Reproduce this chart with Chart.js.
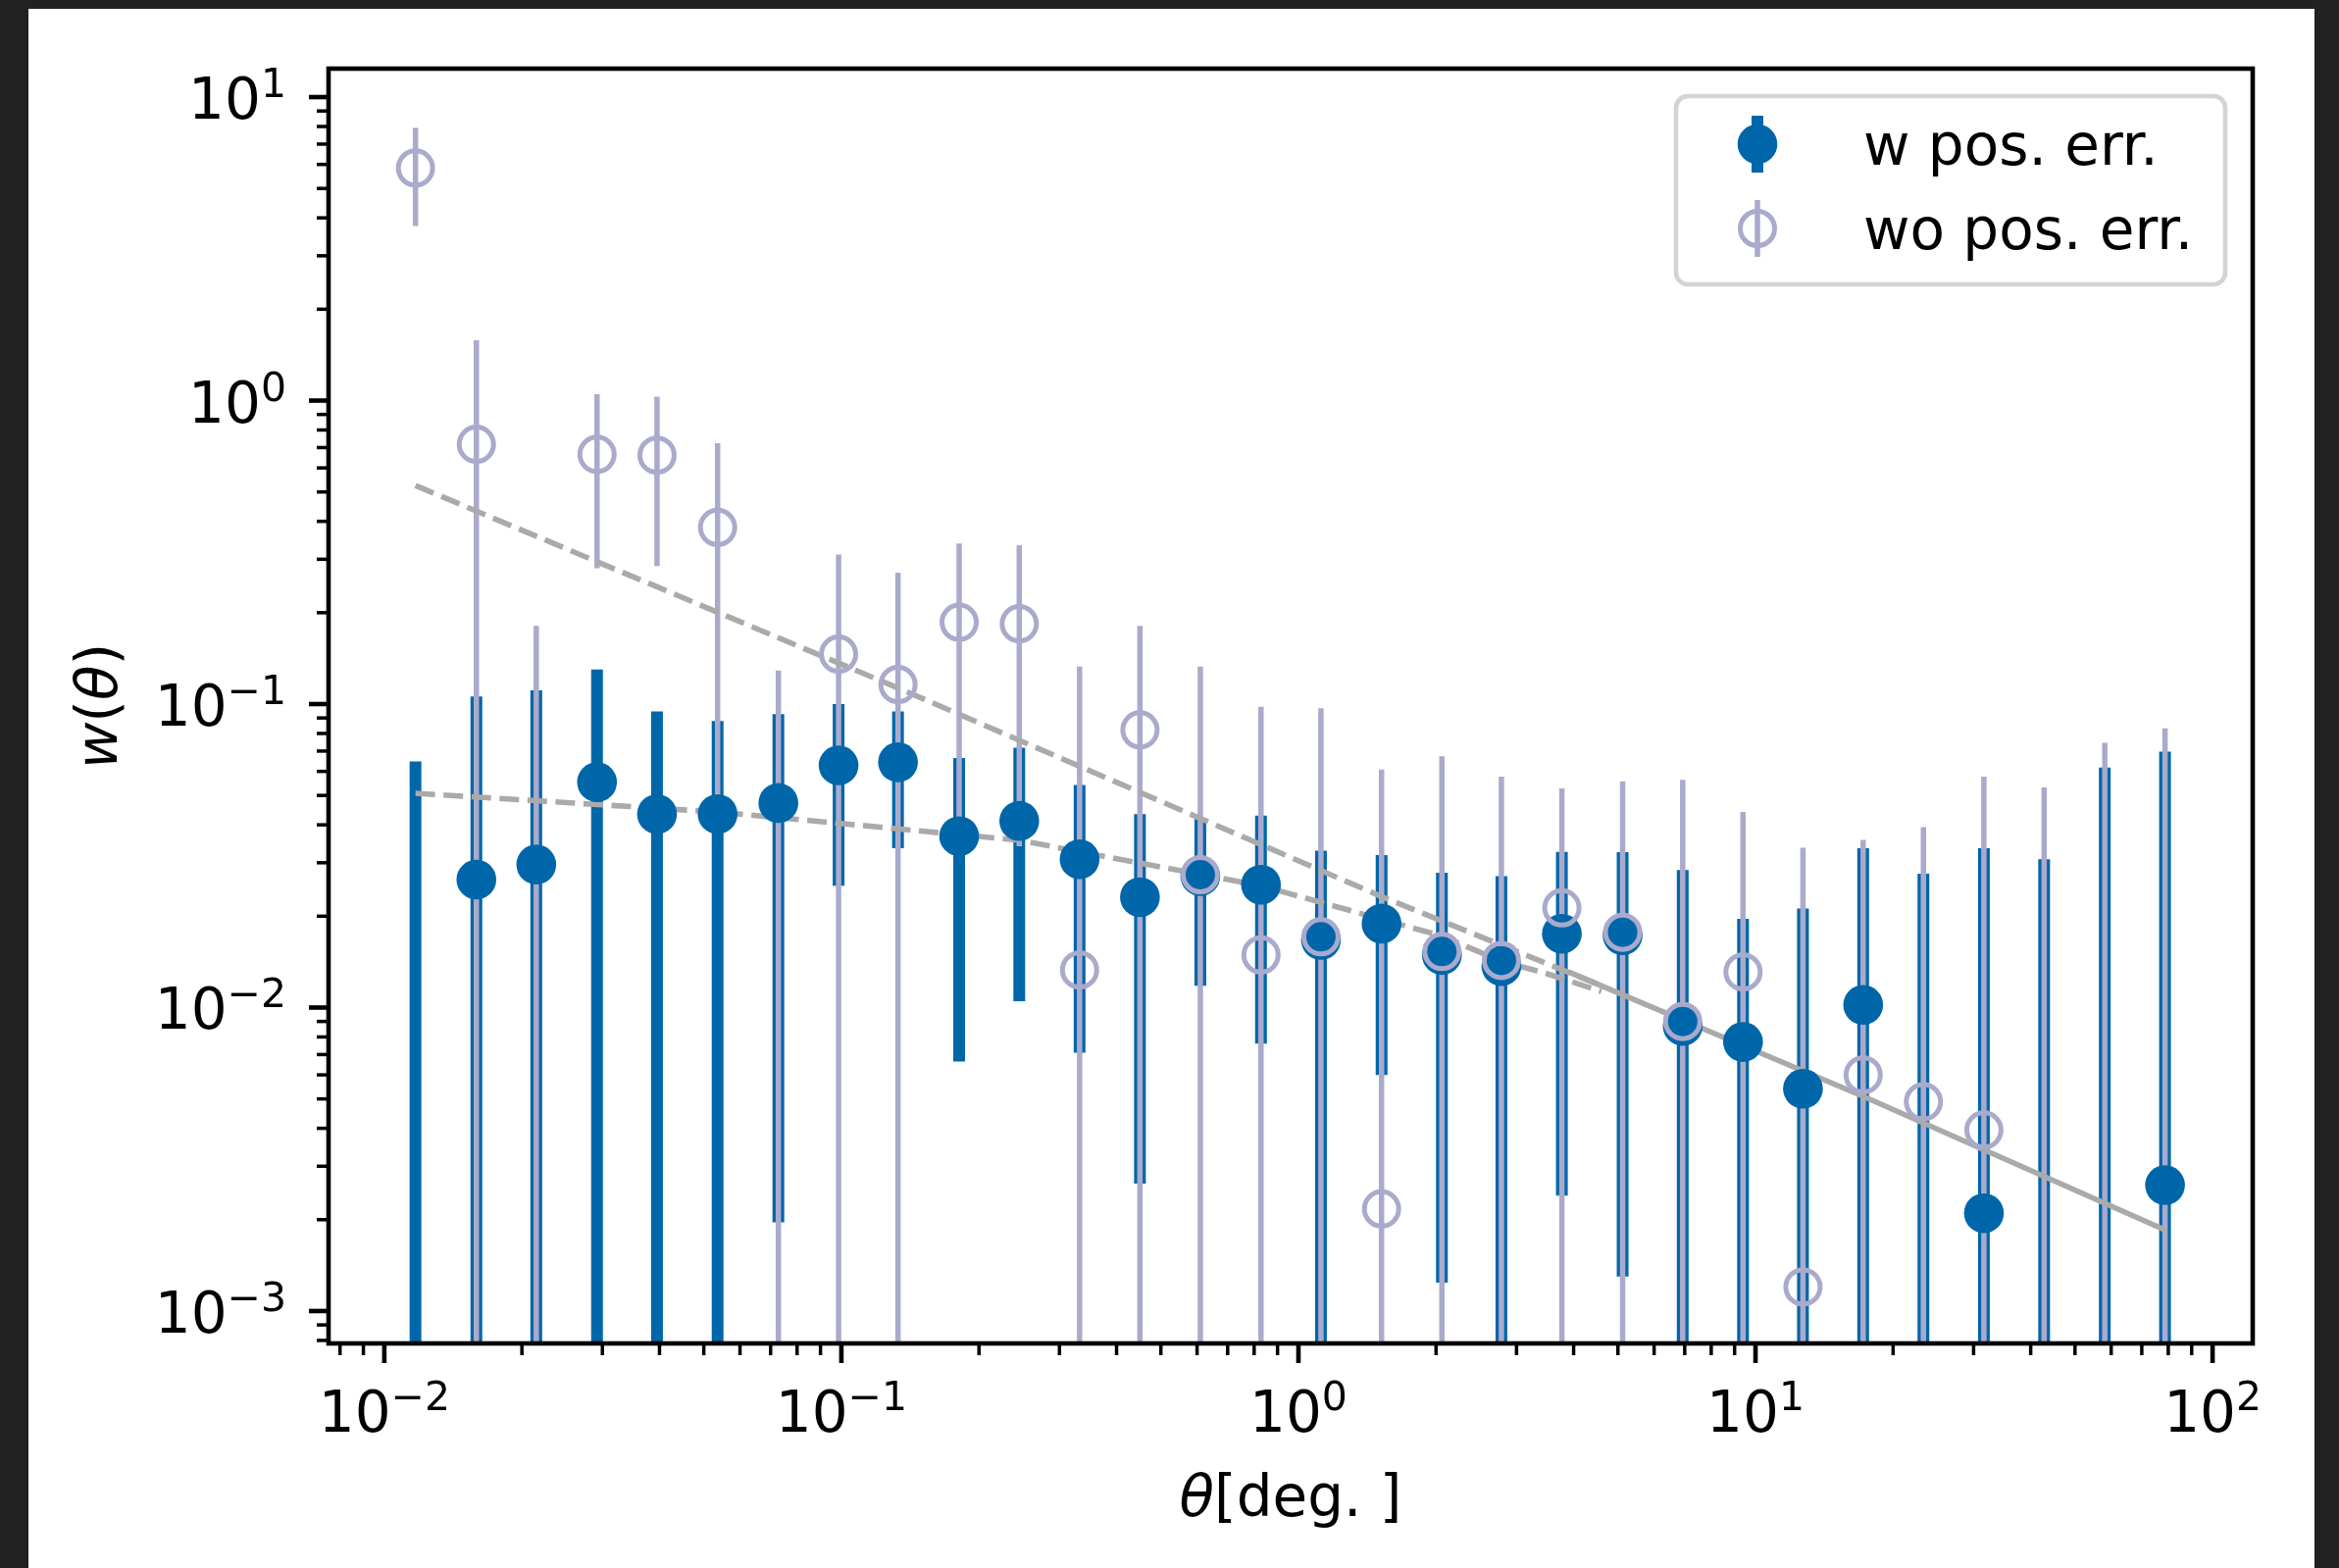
<!DOCTYPE html>
<html>
<head>
<meta charset="utf-8">
<title>w(theta)</title>
<script src="https://cdn.jsdelivr.net/npm/chart.js@4.4.0/dist/chart.umd.min.js"></script>
<style>
  html, body { margin: 0; padding: 0; background: #212121; }
  #figure { position: absolute; left: 29px; top: 9px; width: 2331px; height: 1590px; background: #ffffff; }
  canvas { display: block; }
</style>
</head>
<body>
<div id="figure"><canvas id="wtheta" width="2331" height="1590"></canvas></div>
<script>
// angular bins (deg)
const theta = [0.0117, 0.0159, 0.0215, 0.0292, 0.0395, 0.0536, 0.0728, 0.0986, 0.133, 0.181,
  0.245, 0.332, 0.450, 0.610, 0.828, 1.12, 1.52, 2.06, 2.78, 3.77,
  5.12, 6.93, 9.39, 12.7, 17.2, 23.3, 31.6, 42.8, 58.1, 78.7];

// w pos. err. : marker, top and bottom of the error bar (null = off the axis)
const wVal = [null, 0.0264, 0.0296, 0.0553, 0.0434, 0.0434, 0.0472, 0.0628, 0.0643, 0.0367,
  0.0412, 0.0308, 0.0231, 0.0271, 0.0254, 0.0167, 0.0189, 0.0149, 0.0137, 0.0175,
  0.0173, 0.0087, 0.0077, 0.0054, 0.0102, null, 0.0021, null, null, 0.0026];
const wHi = [0.0647, 0.106, 0.111, 0.130, 0.0946, 0.0879, 0.0927, 0.100, 0.0946, 0.0664,
  0.0718, 0.0541, 0.0434, 0.0418, 0.0429, 0.0329, 0.0318, 0.0278, 0.0271, 0.0326,
  0.0325, 0.0284, 0.0196, 0.0212, 0.0335, 0.0276, 0.0335, 0.0308, 0.0618, 0.0697];
const wLo = [null, null, null, null, null, null, 0.00196, 0.0252, 0.0335, 0.00664,
  0.0105, 0.0071, 0.00263, 0.0118, 0.0076, null, 0.0060, 0.00124, null, 0.0024,
  0.0013, null, null, null, null, null, null, null, null, null];

// wo pos. err.
const oVal = [5.84, 0.718, null, 0.665, 0.661, 0.382, null, 0.146, 0.116, 0.186,
  0.184, 0.0133, 0.0822, 0.0274, 0.0149, 0.0171, 0.00217, 0.0153, 0.0143, 0.0213,
  0.0177, 0.0090, 0.0131, 0.00120, 0.0060, 0.00489, 0.00395, null, null, null];
const oHi = [7.92, 1.58, 0.181, 1.05, 1.03, 0.724, 0.129, 0.311, 0.271, 0.338,
  0.334, 0.133, 0.181, 0.133, 0.098, 0.0969, 0.0608, 0.0673, 0.0577, 0.0527,
  0.0557, 0.0563, 0.0441, 0.0336, 0.0357, 0.0393, 0.0577, 0.0531, 0.0745, 0.0832];
const oLo = [3.76, null, null, 0.28, 0.285, 0.040, null, null, null, 0.035,
  0.034, null, null, null, null, null, null, null, null, null,
  null, null, null, null, null, null, null, null, null, null];

// model curves
const upperFitX = [0.0117, 0.133, 1.52, 4.6];
const upperFitY = [0.525, 0.113, 0.0232, 0.0118];
const lowerFitX = [0.0117, 0.0536, 0.245, 0.332, 0.828, 2.06, 2.78, 3.46, 4.6];
const lowerFitY = [0.0508, 0.0441, 0.0356, 0.0326, 0.0252, 0.0172, 0.0142, 0.0130, 0.0113];
const solidFitX = [3.9, 17.2, 78.7];
const solidFitY = [0.0131, 0.00510, 0.00185];

// axes
const xTicks = [0.01, 0.1, 1, 10, 100];
const xTickExp = ['\u22122', '\u22121', '0', '1', '2'];
const yTicks = [0.001, 0.01, 0.1, 1, 10];
const yTickExp = ['\u22123', '\u22122', '\u22121', '0', '1'];
const xRange = [0.00755, 122.4];
const yRange = [7.82e-4, 12.41];

const DARK = '#0066aa';
const LIGHT = '#aaaacc';
const GREY = '#aaaaaa';
const FONT = '"DejaVu Sans", sans-serif';

function pts(xs, ys) {
  const out = [];
  xs.forEach((x, i) => {
    if (ys[i] !== null) out.push({ x: x, y: ys[i] });
  });
  return out;
}

function drawBars(ctx, chart, hi, lo, color, width) {
  const x = chart.scales.x;
  const y = chart.scales.y;
  ctx.strokeStyle = color;
  ctx.lineWidth = width;
  theta.forEach((t, i) => {
    const px = x.getPixelForValue(t);
    const top = y.getPixelForValue(hi[i]);
    const bottom = lo[i] === null ? chart.chartArea.bottom + 10 : y.getPixelForValue(lo[i]);
    ctx.beginPath();
    ctx.moveTo(px, top);
    ctx.lineTo(px, bottom);
    ctx.stroke();
  });
}

const errorBars = {
  id: 'errorBars',
  beforeDatasetsDraw(chart) {
    const ctx = chart.ctx;
    const a = chart.chartArea;
    ctx.save();
    ctx.beginPath();
    ctx.rect(a.left, a.top, a.right - a.left, a.bottom - a.top);
    ctx.clip();
    ctx.lineCap = 'butt';
    drawBars(ctx, chart, wHi, wLo, DARK, 12);
    drawBars(ctx, chart, oHi, oLo, LIGHT, 5.5);
    ctx.restore();
  }
};

// "10" with a raised exponent
function powerLabel(ctx, exp, x, y, mode) {
  ctx.font = '58px ' + FONT;
  const wb = ctx.measureText('10').width;
  ctx.font = '41px ' + FONT;
  const we = ctx.measureText(exp).width;
  const start = mode === 'center' ? x - (wb + we) / 2 : x - wb - we;
  ctx.textAlign = 'left';
  ctx.textBaseline = 'alphabetic';
  ctx.font = '58px ' + FONT;
  ctx.fillText('10', start, y);
  ctx.font = '41px ' + FONT;
  ctx.fillText(exp, start + wb, y - 22);
}

function richText(ctx, parts, x, y) {
  const widths = parts.map(p => {
    ctx.font = (p[1] ? 'italic ' : '') + '58px ' + FONT;
    return ctx.measureText(p[0]).width;
  });
  let cx = x - widths.reduce((s, w) => s + w, 0) / 2;
  parts.forEach((p, i) => {
    ctx.font = (p[1] ? 'italic ' : '') + '58px ' + FONT;
    ctx.fillText(p[0], cx, y);
    cx += widths[i];
  });
}

function minorTicks(range) {
  const out = [];
  for (let k = -4; k <= 2; k++) {
    for (let m = 2; m <= 9; m++) {
      const v = m * Math.pow(10, k);
      if (v >= range[0] && v <= range[1]) out.push(v);
    }
  }
  return out;
}

const axesFrame = {
  id: 'axesFrame',
  afterDatasetsDraw(chart) {
    const ctx = chart.ctx;
    const a = chart.chartArea;
    const x = chart.scales.x;
    const y = chart.scales.y;
    ctx.save();
    ctx.strokeStyle = '#000';
    ctx.fillStyle = '#000';
    ctx.lineCap = 'butt';

    // minor ticks
    ctx.lineWidth = 3.5;
    minorTicks(xRange).forEach(v => {
      const px = x.getPixelForValue(v);
      ctx.beginPath(); ctx.moveTo(px, a.bottom); ctx.lineTo(px, a.bottom + 12); ctx.stroke();
    });
    minorTicks(yRange).forEach(v => {
      const py = y.getPixelForValue(v);
      ctx.beginPath(); ctx.moveTo(a.left, py); ctx.lineTo(a.left - 12, py); ctx.stroke();
    });

    // major ticks + labels
    ctx.lineWidth = 4.6;
    xTicks.forEach((v, i) => {
      const px = x.getPixelForValue(v);
      ctx.beginPath(); ctx.moveTo(px, a.bottom); ctx.lineTo(px, a.bottom + 20); ctx.stroke();
      powerLabel(ctx, xTickExp[i], px, a.bottom + 90, 'center');
    });
    yTicks.forEach((v, i) => {
      const py = y.getPixelForValue(v);
      ctx.beginPath(); ctx.moveTo(a.left, py); ctx.lineTo(a.left - 20, py); ctx.stroke();
      powerLabel(ctx, yTickExp[i], a.left - 43, py + 22, 'right');
    });

    // spines
    ctx.lineWidth = 4.6;
    ctx.strokeRect(a.left, a.top, a.right - a.left, a.bottom - a.top);

    // axis titles
    ctx.textAlign = 'left';
    ctx.textBaseline = 'alphabetic';
    richText(ctx, [['\u03b8', true], ['[deg. ]', false]], (a.left + a.right) / 2, 1537);
    ctx.translate(90, (a.top + a.bottom) / 2);
    ctx.rotate(-Math.PI / 2);
    richText(ctx, [['w', true], ['(', false], ['\u03b8', true], [')', false]], 0, 0);
    ctx.restore();
  }
};

const legendBox = {
  id: 'legendBox',
  afterDraw(chart) {
    const ctx = chart.ctx;
    ctx.save();
    ctx.beginPath();
    ctx.roundRect(1680, 89, 560, 192, 12);
    ctx.fillStyle = 'rgba(255,255,255,0.8)';
    ctx.fill();
    ctx.lineWidth = 4.6;
    ctx.strokeStyle = '#d4d4d4';
    ctx.stroke();

    const mx = 1763;
    // filled handle
    ctx.strokeStyle = DARK;
    ctx.lineWidth = 12;
    ctx.beginPath(); ctx.moveTo(mx, 138 - 29); ctx.lineTo(mx, 138 + 29); ctx.stroke();
    ctx.fillStyle = DARK;
    ctx.beginPath(); ctx.arc(mx, 138, 20.3, 0, Math.PI * 2); ctx.fill();
    // open handle
    ctx.strokeStyle = LIGHT;
    ctx.lineWidth = 5.5;
    ctx.beginPath(); ctx.moveTo(mx, 224 - 29); ctx.lineTo(mx, 224 + 29); ctx.stroke();
    ctx.lineWidth = 5;
    ctx.beginPath(); ctx.arc(mx, 224, 17.5, 0, Math.PI * 2); ctx.stroke();

    ctx.fillStyle = '#000';
    ctx.font = '58px ' + FONT;
    ctx.textAlign = 'left';
    ctx.textBaseline = 'alphabetic';
    ctx.fillText('w pos. err.', 1871, 159);
    ctx.fillText('wo pos. err.', 1871, 245);
    ctx.restore();
  }
};

const modelLine = {
  type: 'line',
  fill: false,
  tension: 0,
  borderColor: GREY,
  borderWidth: 5.6,
  borderCapStyle: 'butt',
  pointRadius: 0,
  pointHoverRadius: 0
};

new Chart(document.getElementById('wtheta'), {
  type: 'scatter',
  data: {
    datasets: [
      {
        label: 'wo pos. err.',
        data: pts(theta, oVal),
        order: 0,
        pointRadius: 17.5,
        pointBorderWidth: 5,
        pointBorderColor: LIGHT,
        pointBackgroundColor: 'rgba(0,0,0,0)'
      },
      {
        label: 'w pos. err.',
        data: pts(theta, wVal),
        order: 1,
        pointRadius: 20.3,
        pointBorderWidth: 0,
        pointBackgroundColor: DARK
      },
      Object.assign({}, modelLine, {
        label: 'upper model',
        data: pts(upperFitX, upperFitY),
        order: 2,
        borderDash: [20, 8.6]
      }),
      Object.assign({}, modelLine, {
        label: 'lower model',
        data: pts(lowerFitX, lowerFitY),
        order: 3,
        borderDash: [20, 8.6]
      }),
      Object.assign({}, modelLine, {
        label: 'fit',
        data: pts(solidFitX, solidFitY),
        order: 4
      })
    ]
  },
  options: {
    responsive: false,
    animation: false,
    devicePixelRatio: 1,
    events: [],
    layout: { padding: { left: 306, top: 61, right: 63, bottom: 229 } },
    scales: {
      x: { type: 'logarithmic', min: xRange[0], max: xRange[1], display: false },
      y: { type: 'logarithmic', min: yRange[0], max: yRange[1], display: false }
    },
    plugins: {
      legend: { display: false },
      tooltip: { enabled: false }
    }
  },
  plugins: [errorBars, axesFrame, legendBox]
});
</script>
</body>
</html>
